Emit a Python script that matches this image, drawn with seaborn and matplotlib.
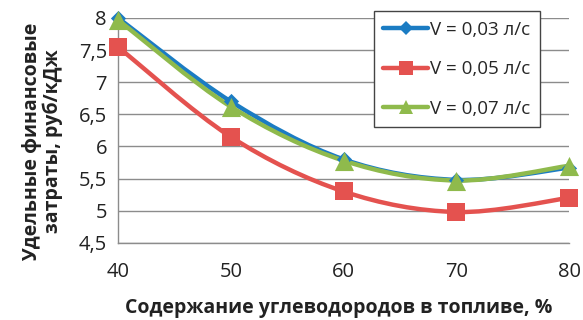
import matplotlib
matplotlib.use("Agg")
import matplotlib.pyplot as plt
import seaborn as sns
import numpy as np
import pandas as pd
from matplotlib.path import Path
from matplotlib.patches import PathPatch
from matplotlib.lines import Line2D
from matplotlib.ticker import FuncFormatter

# Hydrocarbon content in fuel, %
content = [40, 50, 60, 70, 80]
# Specific financial costs, rub/kJ, per flow rate
cost_v003 = [8.00, 6.70, 5.80, 5.48, 5.67]
cost_v005 = [7.55, 6.15, 5.30, 4.98, 5.20]
cost_v007 = [7.97, 6.62, 5.78, 5.47, 5.70]
series_labels = ["V = 0,03 л/с", "V = 0,05 л/с", "V = 0,07 л/с"]
y_ticks = [4.5, 5, 5.5, 6, 6.5, 7, 7.5, 8]
x_ticks = [40, 50, 60, 70, 80]

colors = ["#1b7cc3", "#e4524f", "#8fba4c"]
markers = ["D", "s", "^"]
marker_sizes = [60, 170, 190]

sns.set_theme(style="white")
plt.rcParams["font.family"] = ["Open Sans", "DejaVu Sans"]

df = pd.DataFrame({
    "content": content * 3,
    "cost": cost_v003 + cost_v005 + cost_v007,
    "series": sum([[s] * len(content) for s in series_labels], []),
})

fig = plt.figure(figsize=(5.83, 3.2), dpi=100)
ax = fig.add_axes([0.2024, 0.241, 0.7736, 0.703])


def smooth_path(xs, ys):
    pts = np.column_stack([xs, ys]).astype(float)
    ext = np.vstack([pts[0], pts, pts[-1]])
    verts = [pts[0]]
    codes = [Path.MOVETO]
    for i in range(len(pts) - 1):
        p0, p1, p2, p3 = ext[i], ext[i + 1], ext[i + 2], ext[i + 3]
        c1 = p1 + (p2 - p0) / 6.0
        c2 = p2 - (p3 - p1) / 6.0
        verts += [c1, c2, p2]
        codes += [Path.CURVE4] * 3
    return Path(verts, codes)


for lab, col, mk, ms in zip(series_labels, colors, markers, marker_sizes):
    sub = df[df["series"] == lab]
    patch = PathPatch(smooth_path(sub["content"].values, sub["cost"].values),
                      facecolor="none", edgecolor=col, lw=3.2,
                      capstyle="round", joinstyle="round", zorder=3,
                      clip_on=False)
    ax.add_patch(patch)
    sns.scatterplot(data=sub, x="content", y="cost", marker=mk, s=ms,
                    color=col, edgecolor=col, linewidth=0, ax=ax,
                    zorder=4, clip_on=False, legend=False)

ax.set_xlim(40, 80)
ax.set_ylim(4.5, 8)
ax.set_xticks(x_ticks)
ax.set_yticks(y_ticks)
comma = FuncFormatter(lambda v, p: f"{v:g}".replace(".", ","))
ax.yaxis.set_major_formatter(comma)
ax.xaxis.set_major_formatter(FuncFormatter(lambda v, p: f"{v:g}"))

ax.grid(axis="y", color="#8c8c8c", lw=1.0)
ax.grid(axis="x", visible=False)
for side in ["top", "right"]:
    ax.spines[side].set_visible(False)
for side in ["left", "bottom"]:
    ax.spines[side].set_color("#8c8c8c")
    ax.spines[side].set_linewidth(1.0)
ax.tick_params(axis="both", which="major", direction="out", length=5,
               width=1.0, color="#8c8c8c", labelsize=14.5,
               labelcolor="#222222", pad=3)
ax.tick_params(axis="x", pad=9)

ax.set_xlabel("Содержание углеводородов в топливе, %", fontsize=14,
              fontweight="bold", color="#222222")
ax.xaxis.set_label_coords(0.49, -0.245)
ax.set_ylabel("Удельные финансовые\nзатраты, руб/кДж", fontsize=14,
              fontweight="bold", color="#222222", linespacing=1.0)
ax.yaxis.set_label_coords(-0.122, 0.45)

handles = [Line2D([0], [0], color=c, lw=3.2, marker=m,
                  markersize=ms, markeredgewidth=0)
           for c, m, ms in zip(colors, markers, [7, 10, 10])]
leg = ax.legend(handles, series_labels, loc="upper left",
                bbox_to_anchor=(0.567, 1.03), frameon=True, fancybox=False,
                framealpha=1, edgecolor="#444444", fontsize=13.5,
                handlelength=2.4, handletextpad=0.1, labelspacing=1.15,
                borderpad=0.5, borderaxespad=0)
leg.get_frame().set_linewidth(1.0)
leg.set_zorder(5)

fig.savefig("out.png", dpi=100, facecolor="white")
